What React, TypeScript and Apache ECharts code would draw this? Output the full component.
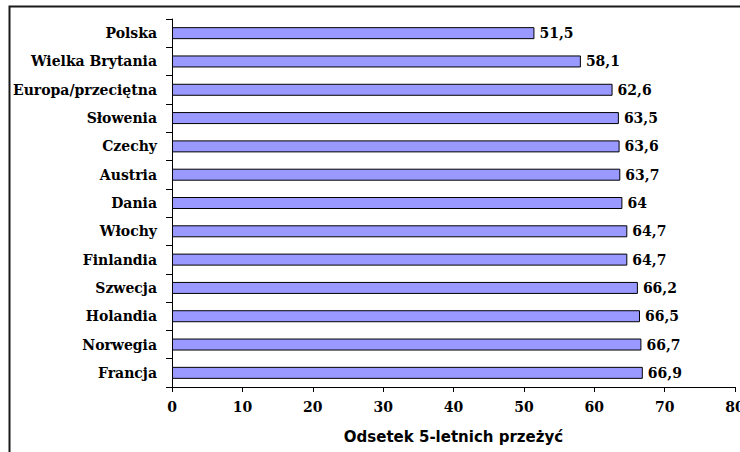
import React, { useEffect, useRef } from "react";
import * as echarts from "echarts";

// Countries, top to bottom
const countries = [
  "Polska",
  "Wielka Brytania",
  "Europa/przeciętna",
  "Słowenia",
  "Czechy",
  "Austria",
  "Dania",
  "Włochy",
  "Finlandia",
  "Szwecja",
  "Holandia",
  "Norwegia",
  "Francja",
];

// 5-year survival rate, %
const survival = [51.5, 58.1, 62.6, 63.5, 63.6, 63.7, 64, 64.7, 64.7, 66.2, 66.5, 66.7, 66.9];

const axisTitle = "Odsetek 5-letnich przeżyć";

const serifBold = {
  fontFamily: "'DejaVu Serif', 'Liberation Serif', serif",
  fontWeight: "bold" as const,
  fontSize: 14,
  color: "#000",
};

const fmt = (v: number) => String(v).replace(".", ",");

export default function App() {
  const ref = useRef<HTMLDivElement>(null);

  useEffect(() => {
    if (!ref.current) return;
    const chart = echarts.init(ref.current, null, { renderer: "svg" });
    chart.setOption({
      animation: false,
      backgroundColor: "#fff",
      grid: {
        left: 172,
        top: 19,
        right: 5,
        bottom: 65,
        containLabel: false,
        outerBoundsMode: "none",
      },
      graphic: [
        {
          type: "rect",
          shape: { x: 9.5, y: 6.5, width: 760, height: 480 },
          style: { fill: "none", stroke: "#1a1a1a", lineWidth: 2 },
          silent: true,
        },
      ],
      xAxis: {
        type: "value",
        min: 0,
        max: 80,
        interval: 10,
        splitLine: { show: false },
        axisLine: { show: true, lineStyle: { color: "#000", width: 1 } },
        axisTick: { show: true, length: 5, lineStyle: { color: "#000" } },
        axisLabel: { ...serifBold, margin: 13 },
        name: axisTitle,
        nameLocation: "middle",
        nameGap: 42,
        nameTextStyle: {
          fontFamily: "'DejaVu Sans', 'Liberation Sans', Arial, sans-serif",
          fontWeight: "bold",
          fontSize: 15,
          color: "#000",
        },
      },
      yAxis: {
        type: "category",
        data: countries,
        inverse: true,
        axisLine: { show: true, lineStyle: { color: "#000", width: 1 } },
        axisTick: { show: true, length: 6, lineStyle: { color: "#000" } },
        axisLabel: { ...serifBold, margin: 15 },
      },
      series: [
        {
          type: "bar",
          data: survival,
          barWidth: 12,
          itemStyle: { color: "#9999FF", borderColor: "#000", borderWidth: 1 },
          label: {
            show: true,
            position: "right",
            distance: 5,
            ...serifBold,
            formatter: (p: any) => fmt(p.value),
          },
        },
      ],
    });
    return () => chart.dispose();
  }, []);

  return (
    <div
      ref={ref}
      style={{ position: "fixed", left: 0, top: 0, width: 740, height: 452 }}
    />
  );
}
